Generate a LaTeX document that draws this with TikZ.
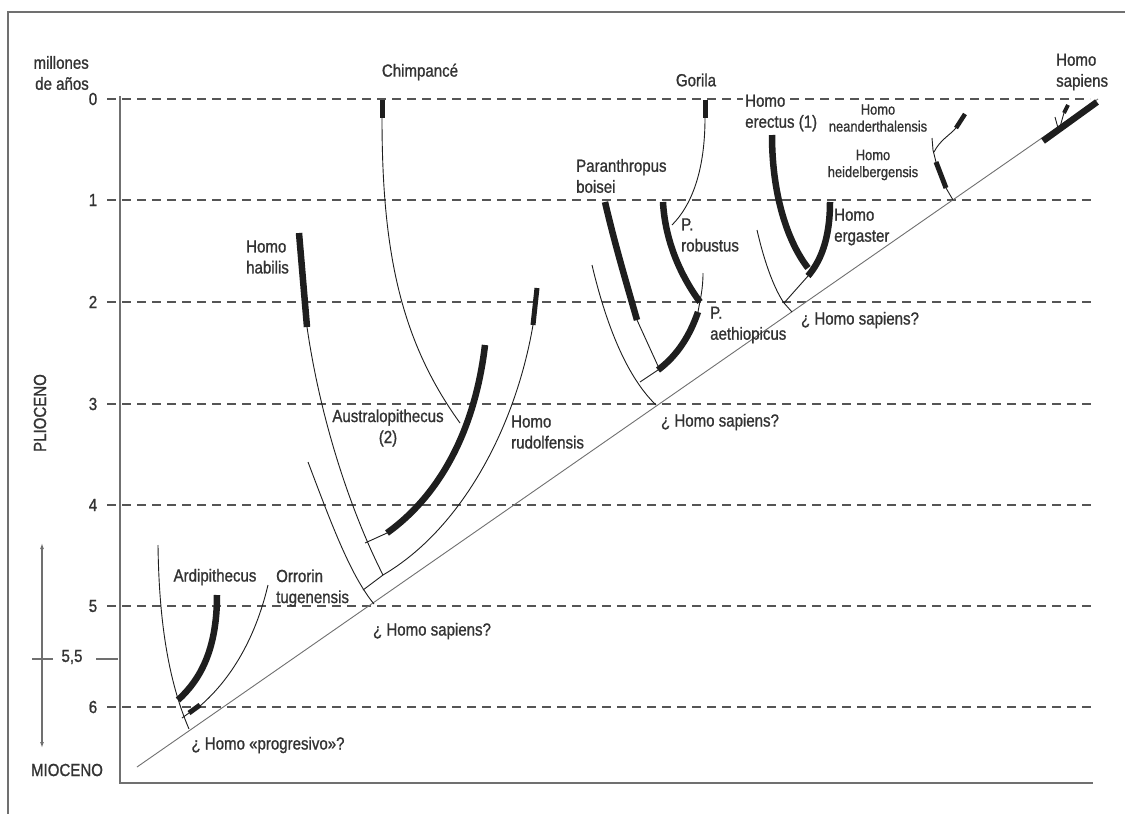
\documentclass[tikz,border=0pt]{standalone}
\usepackage{fontspec}
\setmainfont[FakeStretch=0.86,FakeBold=1.0]{Liberation Sans}
\usetikzlibrary{arrows.meta}
\definecolor{ink}{HTML}{333333}
\definecolor{dk}{HTML}{1E1E1E}
\definecolor{ax}{HTML}{707070}
\definecolor{dsh}{HTML}{555555}
\begin{document}
\begin{tikzpicture}[x=1pt,y=-1pt,
  thinl/.style={line width=0.9pt,draw=dk},
  thickl/.style={line width=6.5pt,draw=dk},
  tickl/.style={line width=5pt,draw=dk},
  dashl/.style={line width=1.3pt,draw=dsh,dash pattern=on 9pt off 6pt},
  axisl/.style={line width=1.5pt,draw=ax},
  diag/.style={line width=0.9pt,draw=ax},
  lbl/.style={inner sep=0pt,text=ink,font=\fontsize{17.5}{21}\selectfont},
  sml/.style={inner sep=0pt,text=ink,font=\fontsize{15}{17}\selectfont,align=center},
]
\useasboundingbox (0,0) rectangle (1125,814);
\fill[white] (0,0) rectangle (1125,814);
% frame
\draw[axisl] (8,814) -- (8,12) -- (1125,12);
% axis
\draw[axisl] (120,96) -- (120,783) -- (1093,783);
% dashed levels
\draw[dashl] (107,99) -- (743,99);
\draw[dashl] (790,99) -- (1090,99);
\foreach \k/\yy in {1/200,2/302,3/404,4/505,5/606,6/707}{
  \draw[dashl] (107,\yy) -- (1093,\yy);
}
% numbers
\foreach \k/\yy in {0/99,1/200,2/302,3/404,4/505,5/606,6/707}{
  \node[lbl] (n\k) at (93,\yy) {\k};
}
\node[lbl] (n55) at (72,657) {5,5};
\draw[axisl,line width=1.2pt] (96,659) -- (118,659);
\draw[axisl,line width=1.2pt] (32,659) -- (53,659);
\coordinate (mtop) at (42,543);
\coordinate (mbot) at (42,748);
\draw[axisl,line width=1.2pt,{Latex[length=6pt,width=4pt]}-{Latex[length=6pt,width=4pt]}] (mtop) -- (mbot);
\node[lbl] (mio) at (67,770) {MIOCENO};
\node[lbl,rotate=90] (plio) at (40,413) {PLIOCENO};
\node[lbl,align=right,anchor=east] (myr) at (89,73) {millones\\de años};

% main diagonal
\coordinate (d0) at (137,767);
\coordinate (d1) at (1098,99);
\draw[diag] (d0) -- (d1);

% ---------- Ardipithecus group
\draw[thinl] (158,545) .. controls (159,620) and (168,680) .. (189,729);
\draw[thickl] (217,595) .. controls (217,650) and (200,680) .. (178,700);
\draw[thinl] (268,585) .. controls (255,640) and (230,680) .. (200,706);
\draw[tickl] (200,705) -- (189,713);
\draw[thinl] (189,713) -- (182,718);
\node[lbl] (ardi) at (215,577) {Ardipithecus};
\node[lbl,align=left,anchor=west] (orro) at (276,588) {Orrorin\\tugenensis};
\node[lbl] (prog) at (268,745) {¿ Homo «progresivo»?};

% ---------- Australopithecus group
\draw[thinl] (308,462) .. controls (330,520) and (350,575) .. (374,604);
\draw[thickl] (299,233) -- (307,327);
\draw[thinl] (307,327) .. controls (322,430) and (355,520) .. (383,575);
\draw[thinl] (365,543) -- (387,533);
\draw[thinl] (363,590) -- (383,575);
\draw[thickl] (485,345) .. controls (475,430) and (440,495) .. (387,533);
\draw[tickl] (382,100) -- (382,118);
\draw[thinl] (382,118) .. controls (382,250) and (400,340) .. (460,423);
\draw[tickl] (537,288) -- (533,325);
\draw[thinl] (533,325) .. controls (515,430) and (460,530) .. (383,575);
\node[lbl] (chimp) at (420,72) {Chimpancé};
\node[lbl,align=left,anchor=west] (habi) at (246,257) {Homo\\habilis};
\node[lbl,align=center] (austr) at (388,428) {Australopithecus\\(2)};
\node[lbl,align=left,anchor=west] (rudo) at (511,432) {Homo\\rudolfensis};
\node[lbl] (hs1) at (432,631) {¿ Homo sapiens?};

% ---------- Paranthropus group
\draw[thinl] (592,265) .. controls (605,320) and (625,375) .. (656,405);
\draw[thickl] (605,202) .. controls (615,245) and (627,285) .. (637,320);
\draw[thinl] (637,320) -- (658,366);
\draw[thinl] (640,382) -- (658,370);
\draw[thickl] (698,312) .. controls (690,335) and (678,355) .. (658,370);
\draw[thinl] (703,273) .. controls (703,290) and (700,300) .. (698,312);
\draw[thickl] (663,202) .. controls (665,240) and (680,275) .. (700,302);
\draw[tickl] (705,100) -- (705,118);
\draw[thinl] (705,118) .. controls (705,170) and (692,205) .. (672,225);
\node[lbl] (gor) at (696,80) {Gorila};
\node[lbl,align=left,anchor=west] (boi) at (576,176) {Paranthropus\\boisei};
\node[lbl,align=left,anchor=west] (rob) at (681,235) {P.\\robustus};
\node[lbl,align=left,anchor=west] (aet) at (710,325) {P.\\aethiopicus};
\node[lbl] (hs2) at (720,422) {¿ Homo sapiens?};

% ---------- Homo erectus group
\draw[thickl] (772,135) .. controls (772,200) and (790,245) .. (808,268);
\draw[thickl] (830,202) .. controls (830,240) and (820,262) .. (808,276);
\draw[thinl] (808,276) -- (784,303);
\draw[thinl] (757,230) .. controls (765,265) and (775,290) .. (784,303) -- (792,312);
\node[lbl,align=left,anchor=west] (ere) at (745,113) {Homo\\erectus (1)};
\node[lbl,align=left,anchor=west] (erg) at (834,227) {Homo\\ergaster};
\node[lbl] (hs3) at (860,320) {¿ Homo sapiens?};

% ---------- neanderthalensis / heidelbergensis
\draw[tickl] (936,162) -- (946,188);
\draw[thinl] (946,188) -- (953,200);
\draw[thinl] (936,162) -- (933,150) -- (932,138);
\draw[thinl] (934,152) .. controls (940,140) and (950,135) .. (956,128);
\draw[line width=4.5pt,draw=dk] (956,128) -- (965,114);
\node[sml] (nea) at (878,118) {Homo\\neanderthalensis};
\node[sml] (hei) at (873,165) {Homo\\heidelbergensis};

% ---------- Homo sapiens
\draw[thickl] (1043,141) -- (1097,102);
\draw[thinl] (1058,128) -- (1055,117);
\draw[thinl] (1060,127) .. controls (1062,120) and (1063,116) .. (1064,113);
\draw[line width=4pt,draw=dk] (1064,113) -- (1068,105);
\node[lbl,align=left,anchor=west] (hsap) at (1056,72) {Homo\\sapiens};
\end{tikzpicture}
\end{document}
